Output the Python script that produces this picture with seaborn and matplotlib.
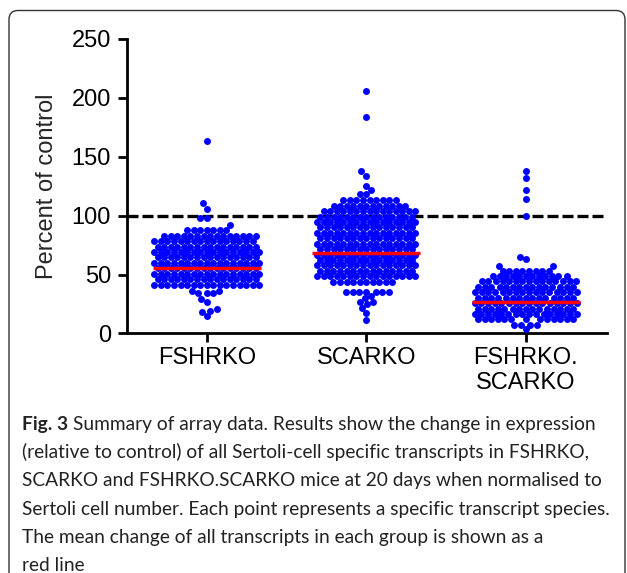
import numpy as np
import pandas as pd
import matplotlib
matplotlib.use('Agg')
import matplotlib.pyplot as plt
import matplotlib.patches as mpatches
import seaborn as sns

# categories and labels
groups = ['FSHRKO', 'SCARKO', 'FSHRKO.SCARKO']
tick_labels = ['FSHRKO', 'SCARKO', 'FSHRKO.\nSCARKO']
mean_values = [56, 68.5, 27]
yticks = [0, 50, 100, 150, 200, 250]

# transcript values (value level, number of points at that level)
fshrko_levels = [15, 18.5, 19.5, 21, 26.5, 29.5, 34, 36, 41.5, 46.1, 50.7, 55.3, 59.9,
                 64.5, 69.1, 73.7, 78.3, 82.9, 87.5, 92, 98, 106, 110.5, 163]
fshrko_counts = [1, 1, 1, 1, 1, 1, 3, 2, 17, 16, 17, 16, 17,
                 16, 17, 16, 16, 15, 7, 1, 2, 1, 1, 1]

scarko_levels = [11.5, 17.5, 21.5, 25, 26.5, 30, 32, 35.5, 44, 48.6, 53.2, 57.8, 62.4,
                 67, 71.6, 76.2, 80.8, 85.4, 90, 94.6, 99.2, 103.8, 108.4, 113,
                 118.5, 122, 125, 134, 137.5, 184, 206]
scarko_counts = [1, 1, 1, 1, 2, 1, 1, 7, 10, 16, 15, 16, 15,
                 16, 15, 16, 15, 16, 15, 16, 15, 15, 12, 9,
                 2, 1, 1, 1, 1, 1, 1]

double_levels = [3.8, 7.5, 12, 16.6, 21.2, 25.8, 30.4, 35, 39.6, 44.2, 48.8, 53.4,
                 57.5, 63, 65, 99.5, 114.5, 121.5, 132, 137.5]
double_counts = [1, 4, 13, 16, 15, 16, 15, 16, 15, 15, 12, 8,
                 2, 1, 1, 1, 1, 1, 1, 1]

caption_lines = [
    'Summary of array data. Results show the change in expression',
    '(relative to control) of all Sertoli-cell specific transcripts in FSHRKO,',
    'SCARKO and FSHRKO.SCARKO mice at 20 days when normalised to',
    'Sertoli cell number. Each point represents a specific transcript species.',
    'The mean change of all transcripts in each group is shown as a',
    'red line',
]

LAYOUT_SIZE = 4.5   # marker size used for the swarm layout
DOT_SIZE = 5.0      # marker size drawn (dots overlap a little, as in the original)


def main():
    sns.set_style('ticks')
    plt.rcParams['font.family'] = ['Liberation Sans', 'DejaVu Sans']

    parts = []
    for g, lv, ct in zip(groups,
                         [fshrko_levels, scarko_levels, double_levels],
                         [fshrko_counts, scarko_counts, double_counts]):
        parts.append(pd.DataFrame({'group': g, 'value': np.repeat(lv, ct)}))
    df = pd.concat(parts, ignore_index=True)

    fig = plt.figure(figsize=(6.27, 5.73), dpi=100)
    ax = fig.add_axes([0.2026, 0.418, 0.7656, 0.514])

    ax.axhline(100, color='black', lw=2.4, dashes=(3.3, 1.2), zorder=1)
    sns.swarmplot(data=df, x='group', y='value', order=groups, color='#0000ff',
                  size=LAYOUT_SIZE, linewidth=0, ax=ax, zorder=3)
    swarms = list(ax.collections)

    x = np.arange(len(groups))
    ax.hlines(mean_values, x - 0.34, x + 0.34, color='#ff0000', lw=2.5, zorder=4)

    ax.set_ylim(0, 250)
    ax.set_xlim(-0.5, 2.51)
    ax.set_yticks(yticks)
    ax.set_xticks(x)
    ax.set_xticklabels(tick_labels)
    ax.set_xlabel('')
    ax.set_ylabel('Percent of control', fontsize=17, labelpad=10)
    ax.tick_params(axis='both', labelsize=17, width=2, length=6.5, color='black',
                   labelcolor='black')
    ax.tick_params(axis='y', pad=5)
    ax.tick_params(axis='x', pad=3)
    sns.despine(ax=ax)
    for s in ['left', 'bottom']:
        ax.spines[s].set_linewidth(2)
        ax.spines[s].set_color('black')

    # lay the swarm out with the final axes, then freeze it and draw bigger dots
    fig.canvas.draw()
    for pts in swarms:
        if 'draw' in pts.__dict__:
            del pts.draw
        pts.set_sizes([DOT_SIZE ** 2])

    # caption box with rounded corners, running off the bottom edge
    box = mpatches.FancyBboxPatch((0.09, -0.3), 6.16, 5.925,
                                  boxstyle='round,pad=0,rounding_size=0.09',
                                  transform=fig.dpi_scale_trans, fill=False,
                                  edgecolor='#333333', lw=1.0)
    fig.patches.append(box)

    cap_font = ['Lato', 'DejaVu Sans']
    cap_size = 13.8
    H = 573.0
    fig.text(21.5 / 627, 1 - 430 / H, 'Fig. 3', fontsize=cap_size, fontweight='bold',
             family=cap_font, color='#222222', va='baseline')
    for i, line in enumerate(caption_lines):
        x0 = 73 if i == 0 else 21.5
        fig.text(x0 / 627, 1 - (430 + 28.2 * i) / H, line, fontsize=cap_size,
                 family=cap_font, color='#222222', va='baseline')

    fig.savefig('out.png', dpi=100)
    plt.close(fig)


if __name__ == '__main__':
    main()
